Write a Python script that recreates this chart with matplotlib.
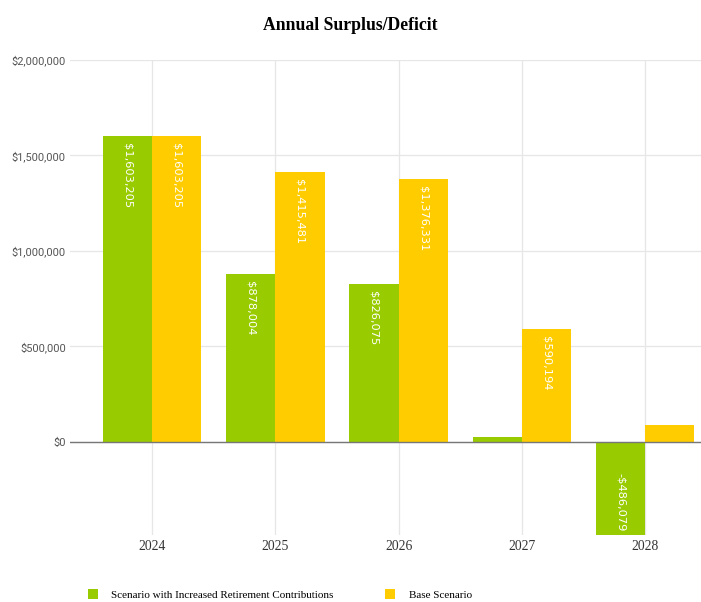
import matplotlib
matplotlib.use("Agg")
import matplotlib.pyplot as plt
import numpy as np
from matplotlib.ticker import FuncFormatter

years = ["2024", "2025", "2026", "2027", "2028"]
increased = [1603205, 878004, 826075, 26000, -486079]
base = [1603205, 1415481, 1376331, 590194, 89000]
series_names = ["Scenario with Increased Retirement Contributions", "Base Scenario"]
colors = ["#99CC00", "#FFCC00"]
labeled_increased = [True, True, True, False, True]
labeled_base = [True, True, True, True, False]


def money(v):
    return f"-${abs(v):,.0f}" if v < 0 else f"${v:,.0f}"


fig = plt.figure(figsize=(7.01, 6.02), dpi=100)
ax = fig.add_axes([70 / 701, 1 - 534.8 / 602, 631 / 701, (534.8 - 60) / 602])

x = np.arange(len(years))
w = 0.40
b1 = ax.bar(x - w / 2, increased, w, color=colors[0], label=series_names[0], zorder=2)
b2 = ax.bar(x + w / 2, base, w, color=colors[1], label=series_names[1], zorder=2)

# value labels inside the bars, rotated, reading downward
for bars, vals, show in [(b1, increased, labeled_increased), (b2, base, labeled_base)]:
    for rect, v, s in zip(bars, vals, show):
        if not s:
            continue
        cx = rect.get_x() + rect.get_width() / 2
        if v >= 0:
            ax.text(cx, v - 36000, money(v), rotation=-90, ha="center", va="top",
                    color="white", fontsize=8.2, family="DejaVu Sans", zorder=3)
        else:
            ax.text(cx, v + 20000, money(v), rotation=-90, ha="center", va="bottom",
                    color="white", fontsize=8.2, family="DejaVu Sans", zorder=3)

ax.set_xlim(-0.665, 4.453)
ax.set_ylim(min(increased), 2000000)
ax.set_xticks(x)
ax.set_xticklabels(years, family="Liberation Serif", fontsize=9.8, color="#333333")
ax.set_yticks([0, 500000, 1000000, 1500000, 2000000])
ax.yaxis.set_major_formatter(FuncFormatter(lambda v, p: money(v)))
for lab in ax.get_yticklabels():
    lab.set_family("Roboto")
    lab.set_fontsize(7.9)
    lab.set_color("#555555")
ax.tick_params(axis="both", length=0)
ax.tick_params(axis="y", pad=3)
ax.tick_params(axis="x", pad=4)

ax.grid(True, color="#e6e6e6", linewidth=0.9, zorder=0)
ax.set_axisbelow(True)
for s in ax.spines.values():
    s.set_visible(False)
ax.axhline(0, color="#777777", linewidth=1.0, zorder=4)

fig.text(0.5, 1 - 25.5 / 602, "Annual Surplus/Deficit", ha="center", va="center",
         family="Liberation Serif", fontweight="bold", fontsize=12.7)

fig.legend(loc="center left", bbox_to_anchor=(82 / 701, 1 - 594.5 / 602), ncol=2,
           frameon=False, borderpad=0, handlelength=0.9, handleheight=0.9,
           handletextpad=1.2, columnspacing=4.7,
           prop={"family": "Liberation Serif", "size": 8})

fig.savefig("out.png", dpi=100)
